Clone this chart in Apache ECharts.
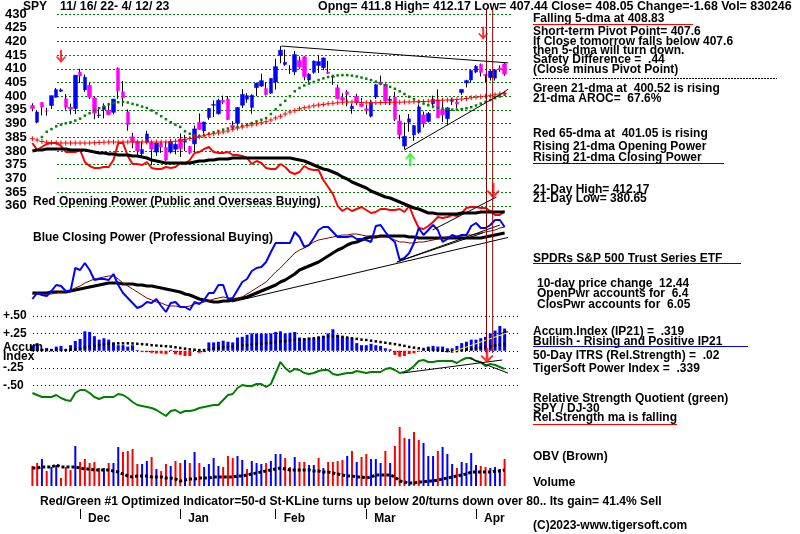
<!DOCTYPE html>
<html><head><meta charset="utf-8">
<script src="https://cdn.jsdelivr.net/npm/echarts@6/dist/echarts.min.js"></script>
<style>html,body{margin:0;padding:0;background:#fff}#c{width:800px;height:534px}</style>
</head><body><div id="c"></div>
<script>
const dates = ['11/16','11/17','11/18','11/21','11/22','11/23','11/25','11/28','11/29','11/30',
'12/1','12/2','12/5','12/6','12/7','12/8','12/9','12/12','12/13','12/14','12/15','12/16','12/19','12/20','12/21','12/22','12/23','12/27','12/28','12/29','12/30',
'1/3','1/4','1/5','1/6','1/9','1/10','1/11','1/12','1/13','1/17','1/18','1/19','1/20','1/23','1/24','1/25','1/26','1/27','1/30','1/31',
'2/1','2/2','2/3','2/6','2/7','2/8','2/9','2/10','2/13','2/14','2/15','2/16','2/17','2/21','2/22','2/23','2/24','2/27','2/28',
'3/1','3/2','3/3','3/6','3/7','3/8','3/9','3/10','3/13','3/14','3/15','3/16','3/17','3/20','3/21','3/22','3/23','3/24','3/27','3/28','3/29','3/30','3/31',
'4/3','4/4','4/5','4/6','4/10','4/11','4/12'];
const monthLabels = {'12/1':'Dec','1/3':'Jan','2/1':'Feb','3/1':'Mar','4/3':'Apr'};

const open = [396.6,390.5,397.7,394.6,396.6,399.6,401.8,399.1,396.0,395.5,
408.8,402.3,404.0,399.4,392.9,395.1,394.9,394.1,410.2,401.6,394.3,385.2,383.5,379.0,383.2,383.1,379.6,382.8,381.3,379.6,380.6,
384.4,383.2,381.7,382.6,390.4,387.3,392.2,396.7,393.6,398.5,399.0,389.4,390.1,396.7,398.9,395.9,403.1,403.7,402.8,401.1,
405.2,414.9,411.6,409.8,408.9,413.1,414.4,405.9,408.7,411.2,410.4,408.8,406.9,403.1,399.5,401.6,395.4,399.9,397.2,
395.4,392.7,399.7,405.1,404.4,398.4,399.7,391.0,381.8,390.5,385.9,386.8,393.2,390.8,397.2,398.7,395.1,391.8,398.1,397.9,401.3,404.8,405.9,
408.9,411.6,407.9,406.8,406.6,410.3,411.8];
const high = [397.4,394.9,397.8,395.8,400.2,403.0,402.9,400.8,397.3,407.7,
410.0,407.9,404.9,399.9,395.6,397.4,397.6,399.0,410.5,405.5,395.2,386.6,383.8,383.4,387.4,383.3,383.0,383.2,383.4,384.4,383.0,
386.4,385.9,381.8,389.3,393.7,390.7,395.6,398.5,399.1,400.2,400.1,390.9,396.0,402.6,401.1,400.7,404.9,408.2,405.1,406.5,
413.7,418.3,417.0,411.3,416.5,414.5,414.6,408.4,413.0,415.0,414.1,412.9,407.5,404.2,401.1,402.2,397.3,400.9,399.3,
396.7,398.7,404.4,407.5,404.7,399.7,401.6,393.2,390.4,393.5,389.5,397.0,394.4,394.2,400.2,402.5,399.3,396.0,399.4,398.6,402.5,406.0,409.7,
411.4,411.9,408.0,409.5,409.7,411.2,412.17];
const low = [394.5,390.1,393.0,392.9,395.4,399.5,401.5,395.1,393.3,393.5,
404.8,401.6,398.9,391.6,392.0,391.9,393.1,393.4,399.0,396.3,387.4,381.0,378.4,378.1,382.7,374.8,378.2,379.3,376.4,379.1,378.8,
377.8,380.0,378.8,379.4,387.7,386.4,391.4,392.4,393.3,397.1,391.3,387.7,388.4,395.7,397.6,393.6,400.0,403.4,400.3,400.8,
402.4,412.0,411.1,408.1,407.6,409.9,405.8,405.0,408.2,408.5,409.5,408.1,404.1,398.9,397.0,396.3,393.6,396.8,396.2,
393.4,392.3,399.0,404.0,397.6,396.7,390.9,384.3,380.65,387.0,383.7,386.3,388.6,390.4,395.6,392.0,390.6,389.4,396.8,395.6,400.5,403.2,405.1,
408.4,407.2,405.1,405.7,405.7,408.9,407.44];
const close = [395.45,394.24,396.03,394.59,400.20,402.42,402.33,395.91,395.23,407.68,
407.38,406.91,399.59,393.83,393.16,396.24,393.28,398.95,401.97,399.40,389.63,383.27,380.02,380.54,386.23,380.72,382.91,381.40,376.66,383.44,382.43,
380.82,383.76,379.38,388.08,387.86,390.58,395.52,396.96,398.50,397.77,391.49,388.64,395.88,400.63,400.20,400.35,404.75,405.68,400.59,406.48,
410.80,416.78,412.35,409.83,415.19,410.65,407.09,408.04,412.83,412.64,413.98,408.28,407.26,399.09,398.54,400.66,396.38,397.73,396.26,
394.74,397.81,404.19,404.47,398.27,398.92,391.56,385.91,385.36,391.73,389.28,396.11,389.99,393.74,398.91,392.11,393.17,395.75,398.48,397.11,402.49,405.68,409.39,
410.95,408.67,407.60,409.19,409.61,409.72,408.05];

const ma21 = [null,null,385.1,387.0,388.0,389.0,389.6,390.1,390.5,391.1,
391.8,392.9,393.8,394.8,395.6,396.3,397.0,397.5,397.8,397.9,397.7,397.2,396.8,396.2,395.7,394.8,393.8,392.7,391.6,390.5,389.6,
388.8,387.2,386.3,385.7,385.5,385.8,386.3,386.8,387.3,387.8,388.2,388.5,388.8,389.2,389.7,390.2,390.8,391.4,392.0,393.5,
395.2,396.8,398.3,400.0,401.8,403.0,403.9,404.6,405.2,405.9,406.5,407.0,407.4,407.6,407.7,407.7,407.5,407.2,406.8,
406.4,405.9,405.3,404.6,404.0,403.4,402.7,401.8,400.8,399.8,398.9,398.0,397.3,396.7,396.2,395.8,395.4,395.2,395.1,395.1,395.3,395.6,396.0,
396.6,397.3,398.0,398.6,399.3,399.9,400.52];
const ma65 = [384.5,384.0,383.5,383.2,383.0,383.0,382.9,382.9,382.9,382.9,
382.9,382.9,382.9,383.0,383.1,383.2,383.3,383.3,383.3,383.3,383.3,383.3,383.3,383.3,383.3,383.3,383.3,383.3,383.3,383.4,383.6,
383.9,384.2,384.6,385.0,385.2,385.6,386.0,386.3,386.6,386.9,387.3,387.9,388.4,388.8,389.2,389.5,389.9,390.3,390.7,391.3,
392.0,392.7,393.5,394.2,394.8,395.4,395.8,396.1,396.5,396.8,397.0,397.2,397.4,397.6,397.8,397.9,397.9,397.8,397.7,
397.6,397.6,397.6,397.7,397.7,397.8,397.8,397.8,397.9,397.9,398.0,398.0,398.1,398.2,398.3,398.4,398.5,398.6,398.7,398.8,399.0,399.2,399.4,
399.6,399.8,400.0,400.2,400.5,400.8,401.05];

const openPower = [87,80,83,86,87,87,84,78,78,78,
80,68,64,62,62,63,63,70,87,87,74,66,66,65,68,62,61,61,63,62,63,
67,66,70,77,78,81,83,78,77,77,78,75,75,74,72,66,69,67,62,61,
61,66,63,58,56,58,64,61,60,60,50,43,36,24,19,22,19,21,23,
20,17,18,21,21,20,20,21,18,24,12,2,1,4,8,13,12,13,15,14,17,22,23,
23,22,22,19,15,15,19];
const openPowerMa = [79,80,80,81,81,81,81,81,80,80,
80,80,79,78,77,77,76,76,75,75,75,74,74,73,72,70,69,68,67,67,67,
67,67,67,68,69,69,70,70,71,71,71,72,72,72,72,72,72,72,72,72,
72,72,72,72,71,70,69,67,65,63,61,60,58,56,53,51,48,46,44,
42,39,37,35,33,32,30,28,26,24,22,21,19,17,17,16,16,16,16,16,17,17,17,
17,18,18,18,18,18,18];

const closePower = [21,27,25,24,29,35,34,29,29,52,
50,57,50,40,41,41,40,46,35,27,22,17,12,14,18,17,21,14,8,17,18,
13,13,10,18,16,20,27,27,35,35,21,22,30,38,41,49,52,53,58,68,
77,77,77,77,88,83,73,75,82,90,93,93,88,83,83,83,84,81,81,
80,78,94,95,88,82,78,60,62,67,77,92,85,90,95,90,78,81,85,83,85,85,94,
97,92,92,95,100,100,93];
const closePowerMaShort = [26,26,26,26,26,27,28,29,30,32,
34,37,39,41,42,43,44,44,41,37,34,31,28,25,22,20,18,17,15,14,14,
13,13,14,16,17,18,19,21,22,23,22,21,21,23,26,29,32,35,38,43,
48,52,57,62,67,70,72,75,78,80,81,82,83,84,85,85,86,86,85,
84,84,84,83,83,82,80,78,78,77,77,78,78,79,80,81,82,83,83,84,84,85,85,
86,87,88,89,90,92,93];
const closePowerMaLong = [27,27,27,27,28,28,28,28,29,30,
31,32,33,34,35,36,37,37,37,36,36,36,35,35,34,34,33,32,31,30,29,
28,26,25,23,21,20,19,18,18,19,19,20,21,22,23,25,27,29,31,33,
35,38,40,43,46,50,52,54,56,58,61,64,67,70,72,75,77,78,80,
82,83,83,84,84,84,84,84,84,83,83,82,82,82,82,82,82,82,82,82,82,82,82,
82,82,83,84,85,86,87];

const ip21 = [0.08,0.11,0.03,0.04,0.02,0.06,0.07,0.02,0.08,0.14,
0.17,0.28,0.27,0.21,0.16,0.18,0.16,0.11,0.08,0.08,0.06,0.08,0.01,-0.02,-0.02,-0.03,-0.04,-0.04,-0.05,0.01,-0.05,
-0.06,-0.075,-0.075,0.01,-0.03,-0.02,0.12,0.12,0.13,0.145,0.13,0.12,0.19,0.20,0.23,0.25,0.25,0.25,0.25,0.25,
0.27,0.28,0.25,0.26,0.27,0.19,0.18,0.19,0.18,0.20,0.21,0.25,0.31,0.23,0.20,0.19,0.18,0.11,0.08,
0.08,0.10,0.08,0.07,0.035,0.02,-0.06,-0.085,-0.075,-0.047,-0.037,-0.013,0.02,0.06,0.07,0.06,0.06,0.035,0.035,0.07,0.11,0.13,0.16,
0.16,0.18,0.20,0.25,0.29,0.356,0.319];
const ip21Ma = [0.01,0.01,0.01,0.01,0.01,0.01,0.01,0.01,0.015,0.02,
0.03,0.045,0.06,0.07,0.08,0.09,0.10,0.105,0.107,0.107,0.107,0.105,0.10,0.095,0.09,0.08,0.075,0.07,0.065,0.06,0.05,
0.04,0.03,0.02,0.015,0.01,0.01,0.02,0.03,0.04,0.05,0.055,0.06,0.07,0.075,0.08,0.09,0.095,0.10,0.107,0.115,
0.125,0.135,0.14,0.15,0.155,0.16,0.165,0.17,0.18,0.19,0.20,0.21,0.21,0.205,0.20,0.19,0.18,0.17,0.16,
0.155,0.145,0.135,0.125,0.115,0.105,0.095,0.083,0.07,0.055,0.045,0.035,0.025,0.015,0.011,0.005,0.0,-0.005,-0.01,-0.005,0.005,0.015,0.025,
0.035,0.045,0.055,0.065,0.075,0.085,0.095];

const rsQuotient = [37,35,33,33,33,35,32,30,29,37,
40,40,37,33,31,33,33,33,36,35,32,28,25,24,23,22,20,17,14,19,20,
17,19,19,20,22,23,24,25,25,30,35,36,42,45,44,44,46,46,43,46,
57,68,62,58,61,60,57,56,57,59,60,60,56,55,56,57,57,59,58,
57,58,58,58,61,62,60,57,58,60,64,69,70,68,68,69,69,69,69,67,70,72,72,
69,68,64,66,65,63,61];

const volume = [60,69,81,45,57,63,24,57,48,120,
72,81,69,72,54,54,69,69,117,102,105,111,66,66,75,87,51,45,66,60,75,
69,78,69,102,69,57,66,84,60,57,90,84,90,78,51,75,69,66,69,75,
96,96,84,57,87,72,72,63,63,84,54,72,72,75,78,90,105,72,87,
96,81,81,69,105,69,120,177,144,141,162,138,129,90,90,105,117,96,66,54,72,69,99,
63,60,57,54,57,51,81];
const volumeSide = ['d','d','u','d','u','u','d','d','d','u',
'd','d','d','d','d','u','d','u','u','d','d','d','d','u','u','d','u','d','d','u','d',
'd','u','d','u','d','u','u','u','u','d','d','d','u','u','d','u','u','u','d','u',
'u','u','d','d','u','d','d','u','u','d','u','d','d','d','d','u','d','u','d',
'd','u','u','u','d','u','d','d','d','u','d','d','u','u','u','d','u','u','u','d','u','u','u',
'u','d','d','u','u','u','d'];
const obv = [18,18,19,19,19,21,19,19,19,19,
18,17,17,16,16,16,16,15,14,12,10,9,10,10,10,9,9,9,8,8,7,
5,6,7,7,8,8,8,9,9,9,9,9,10,10,11,12,13,14,15,16,
17,18,17,16,16,16,16,16,15,15,14,14,13,12,11,10,10,9,9,
8,9,11,11,11,11,9,5,4,3,3,4,4,5,5,6,7,8,9,10,11,12,14,
14,14,14,14,15,15,16];

const accumTickLabels = {'0.5':'+.50','0.25':'+.25','0':'','-0.25':'-.25','-0.5':'-.50'};

// ---------------------------------------------------------------
const N = dates.length;
const FONT = '"Liberation Sans", Arial, sans-serif';
const L = 30, W = 477;
const chart = echarts.init(document.getElementById('c'));

const grids = [
  {left:L, width:W, top:14, height:191.8},        // 0 price
  {left:57, width:456, top:14, height:191.8},     // 1 price gridlines
  {left:L, width:W, top:120, height:120},         // 2 opening power
  {left:L, width:W, top:210, height:110},         // 3 closing power
  {left:L, width:W, top:316, height:69.5},        // 4 accum
  {left:33, width:485, top:316, height:69.5},     // 5 accum gridlines
  {left:L, width:W, top:350, height:80},          // 6 RS
  {left:L, width:W, top:420, height:66},          // 7 volume
  {left:L, width:W, top:508, height:1}            // 8 month axis
];
const cat = g => ({type:'category', gridIndex:g, data:dates, show:false, boundaryGap:true});
const val = g => ({type:'value', gridIndex:g, min:-0.5, max:N-0.5, show:false, position:'top'});
const isMonthStart = (i, v) => monthLabels[v] !== undefined;
const xAxes = [
  cat(0), val(0), val(1), cat(2), val(2), cat(3), val(3), cat(4), val(4), val(5), cat(6), val(6), cat(7),
  {type:'category', gridIndex:8, data:dates, boundaryGap:true,
   axisLine:{show:false},
   axisTick:{show:true, alignWithLabel:true, interval:isMonthStart, length:10, lineStyle:{color:'#000', width:1}},
   axisLabel:{interval:isMonthStart, formatter:v => monthLabels[v] || '', align:'left', padding:[0,0,0,8], margin:4,
     color:'#000', fontWeight:'bold', fontSize:12, fontFamily:FONT}}
];
const hid = (g, min, max) => ({type:'value', gridIndex:g, min, max, show:false});
const yAxes = [
  hid(0, 360, 430),
  {type:'value', gridIndex:1, min:360, max:430, interval:5, axisLine:{show:false}, axisTick:{show:false},
   splitLine:{show:true, lineStyle:{color:'#008000', type:[2,2], width:1}},
   axisLabel:{align:'left', margin:52, color:'#000', fontWeight:'bold', fontSize:13, fontFamily:FONT, padding:[4,0,0,0]}},
  hid(2, -10, 110),
  hid(3, 0, 110),
  hid(4, -0.5, 0.5),
  {type:'value', gridIndex:5, min:-0.5, max:0.5, interval:0.25, axisLine:{show:false}, axisTick:{show:false},
   splitLine:{show:true, lineStyle:{color:'#000', type:[1,3], width:1}},
   axisLabel:{align:'left', margin:30, color:'#000', fontWeight:'bold', fontSize:12, fontFamily:FONT, padding:[4,0,0,0],
     formatter:v => accumTickLabels[String(v)] ?? ''}},
  hid(6, 0, 80),
  hid(7, 0, 198),
  hid(7, 0, 66),
  hid(8, 0, 1)
];

const ohlc = open.map((o, i) => [o, close[i], low[i], high[i]]);
const bodies = open.map((o, i) => [o, close[i], Math.min(o, close[i]), Math.max(o, close[i])]);
const plus = 'path://M2,0H3V2H5V3H3V5H2V3H0V2H2Z';
const downArrow = 'path://M4,0H6V9L9,6L10,7L5,13L0,7L1,6L4,9Z';
const seg = (xi, yi, pts, color, width) => ({type:'line', xAxisIndex:xi, yAxisIndex:yi, data:pts, symbol:'none', clip:false,
  lineStyle:{color, width}, silent:true, z:5});

const series = [
  {type:'candlestick', xAxisIndex:0, yAxisIndex:0, data:ohlc, barWidth:1,
   itemStyle:{color:'#000', color0:'#000', borderColor:'#000', borderColor0:'#000', borderWidth:1}},
  {type:'candlestick', xAxisIndex:0, yAxisIndex:0, data:bodies, barWidth:4,
   itemStyle:{color:'#0000ff', color0:'#ff00ff', borderColor:'#0000ff', borderColor0:'#ff00ff', borderWidth:0.5}},
  {type:'line', xAxisIndex:0, yAxisIndex:0, data:ma21, symbol:'rect', symbolSize:2.5, showSymbol:true, showAllSymbol:true,
   itemStyle:{color:'#008000'}, lineStyle:{opacity:0}},
  {type:'line', xAxisIndex:0, yAxisIndex:0, data:ma65, symbol:plus, symbolSize:5, showSymbol:true, showAllSymbol:true,
   itemStyle:{color:'#ff0000'}, lineStyle:{opacity:0}},
  // price trend lines
  seg(1, 0, [[52.2, 418.3], [105.6, 411.4]], '#000', 1),
  seg(1, 0, [[78.0, 380.4], [99.0, 401.6], [105.9, 411.4]], '#000', 1),
  // opening power
  {type:'line', xAxisIndex:3, yAxisIndex:2, data:openPower, symbol:'none', lineStyle:{color:'#ff0000', width:2}},
  {type:'line', xAxisIndex:3, yAxisIndex:2, data:openPowerMa, symbol:'none', lineStyle:{color:'#000', width:3}},
  seg(4, 2, [[83.9, 0], [97.3, 33]], '#000', 1),
  // closing power
  {type:'line', xAxisIndex:5, yAxisIndex:3, data:closePowerMaLong, symbol:'none', lineStyle:{color:'#000', width:3}},
  {type:'line', xAxisIndex:5, yAxisIndex:3, data:closePowerMaShort, symbol:'none', lineStyle:{color:'#800000', width:1}},
  {type:'line', xAxisIndex:5, yAxisIndex:3, data:closePower, symbol:'none', lineStyle:{color:'#0000ff', width:2}},
  seg(6, 3, [[41.8, 18], [104.9, 88.3]], '#000', 1),
  seg(6, 3, [[76.4, 58], [94.4, 87]], '#000', 1),
  seg(6, 3, [[76.4, 58], [98.0, 95]], '#000', 1),
  // accumulation index
  {type:'bar', xAxisIndex:7, yAxisIndex:4, barWidth:3,
   data:ip21.map(v => ({value:v, itemStyle:{color: v >= 0 ? '#0000ff' : '#ff0000'}}))},
  {type:'line', xAxisIndex:7, yAxisIndex:4, data:ip21Ma, symbol:'rect', symbolSize:2.5, showSymbol:true, showAllSymbol:true,
   itemStyle:{color:'#000'}, lineStyle:{opacity:0}, z:4},
  seg(8, 4, [[88.0, -0.018], [99.4, 0.255]], '#ffff00', 1),
  seg(8, 4, [[98.5, 0.255], [104.8, 0.356]], '#000', 1),
  // relative strength quotient
  {type:'line', xAxisIndex:10, yAxisIndex:6, data:rsQuotient, symbol:'none', lineStyle:{color:'#008000', width:2}},
  seg(11, 6, [[77.6, 57], [98.5, 70]], '#000', 1),
  seg(11, 6, [[91.6, 71.7], [103.5, 50]], '#000', 1),
  // volume + OBV
  {type:'bar', xAxisIndex:12, yAxisIndex:7, barWidth:2,
   data:volume.map((v, i) => ({value:v, itemStyle:{color: volumeSide[i] === 'u' ? '#0000ff' : '#ff0000'}}))},
  {type:'line', xAxisIndex:12, yAxisIndex:8, data:obv, symbol:'none', lineStyle:{color:'#000', width:3, type:[3,2]}},
  // vertical signal lines
  seg(1, 0, [[95.2, 431.5], [95.2, 306.3]], '#800000', 1),
  seg(1, 0, [[96.5, 431.5], [96.5, 306.3]], '#800000', 1),
  // arrows
  {type:'scatter', xAxisIndex:1, yAxisIndex:0, symbol:downArrow, symbolSize:[10,13], itemStyle:{color:'#ff0000'},
   data:[[6.0, 414.5], [94.5, 423]], z:6},
  {type:'scatter', xAxisIndex:1, yAxisIndex:0, symbol:downArrow, symbolSize:[13,16], itemStyle:{color:'#ff0000'},
   data:[[96.6, 365.5]], z:6, clip:false},
  {type:'scatter', xAxisIndex:1, yAxisIndex:0, symbol:downArrow, symbolSize:[10,14], symbolRotate:180,
   itemStyle:{color:'#00ff00'}, data:[[79.2, 377]], z:6},
  {type:'scatter', xAxisIndex:8, yAxisIndex:4, symbol:downArrow, symbolSize:[13,15], itemStyle:{color:'#ff0000'},
   data:[[95.3, -0.07]], z:6}
];

const T = (x, y, text, size) => ({type:'text', x, y, z:100,
  style:{text, font:'bold ' + (size || 12) + 'px ' + FONT, fill:'#000', verticalAlign:'middle', align:'left'}});
const HL = (x1, x2, y, color, dash) => ({type:'line', z:100, shape:{x1, y1:y, x2, y2:y},
  style:{stroke:color, lineWidth:1, lineDash:dash || null}});
const graphics = [
  T(23, 7, 'SPY'), T(60, 7, '11/ 16/ 22- 4/ 12/ 23', 12.3),
  T(318, 7, 'Opng= 411.8 High= 412.17 Low= 407.44 Close= 408.05 Change=-1.68 Vol= 830246', 12.4),
  T(533, 19, 'Falling 5-dma at 408.83'), HL(533, 693, 24.5, '#ff0000'),
  T(533, 31.5, 'Short-term Pivot Point= 407.6'),
  T(533, 42, 'If Close tomorrow falls below 407.6'),
  T(533, 51, 'then 5-dma will turn down.'),
  T(533, 60, 'Safety Difference =  .44'),
  T(533, 69.5, '(Close minus Pivot Point)'),
  HL(533, 777, 78.5, '#000', [2,1]),
  T(533, 88.5, 'Green 21-dma at  400.52 is rising'),
  T(533, 99, '21-dma AROC=  67.6%'),
  T(533, 134, 'Red 65-dma at  401.05 is rising'),
  T(533, 146.5, 'Rising 21-dma Opening Power'),
  T(533, 157.3, 'Rising 21-dma Closing Power'), HL(533, 724, 163.5, '#0000ff'),
  T(533, 190, '21-Day High= 412.17'),
  T(533, 198.5, '21-Day Low= 380.65'),
  T(533, 258.3, 'SPDRs S&P 500 Trust Series ETF'), HL(533, 741, 263.5, '#0000ff'),
  T(537, 283.3, '10-day price change  12.44'),
  T(537, 294, 'OpenPwr accounts for  6.4'),
  T(537, 305, 'ClosPwr accounts for  6.05'),
  T(533, 331.7, 'Accum.Index (IP21) =  .319'),
  T(533, 341.7, 'Bullish - Rising and Positive IP21'), HL(533, 748, 346.5, '#0000ff'),
  T(533, 356, '50-Day ITRS (Rel.Strength) =  .02'),
  T(533, 368.3, 'TigerSoft Power Index =  .339'),
  T(533, 399, 'Relative Strength Quotient (green)'),
  T(533, 408.3, 'SPY / DJ-30'),
  T(533, 417.7, 'Rel.Strength ma is falling'), HL(533, 677, 424.5, '#ff0000'),
  T(533, 456.7, 'OBV (Brown)'),
  T(533, 482.7, 'Volume'),
  T(533, 526, '(C)2023-www.tigersoft.com'),
  T(33, 201.7, 'Red Opening Power (Public and Overseas Buying)'),
  T(33, 237.7, 'Blue Closing Power (Professional Buying)'),
  T(3, 348, 'Accum'), T(3, 357, 'Index'),
  T(40, 502, 'Red/Green #1 Optimized Indicator=50-d St-KLine turns up below 20/turns down over 80.. Its gain= 41.4% Sell', 12.1)
];

chart.setOption({
  animation:false,
  backgroundColor:'#fff',
  grid:grids, xAxis:xAxes, yAxis:yAxes, series, graphic:graphics
});
</script></body></html>
